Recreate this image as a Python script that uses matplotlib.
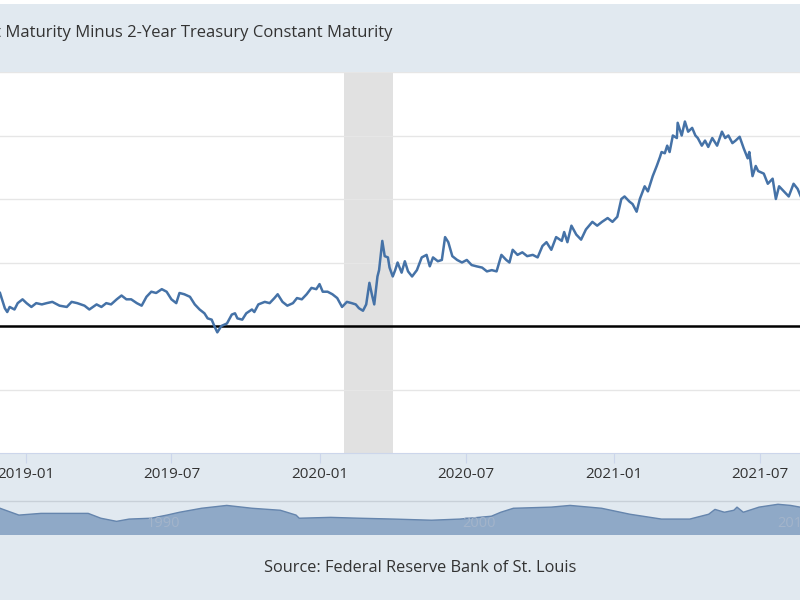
import pandas as pd
import matplotlib
matplotlib.use('Agg')
import matplotlib.pyplot as plt
import matplotlib.dates as mdates

plt.rcParams['font.family'] = ['Open Sans', 'DejaVu Sans']

title = '10-Year Treasury Constant Maturity Minus 2-Year Treasury Constant Maturity'
source = 'Source: Federal Reserve Bank of St. Louis'

# spread (percent)
dates = ['2018-11-30', '2018-12-06', '2018-12-09', '2018-12-12', '2018-12-18', '2018-12-22', '2018-12-28',
         '2019-01-02', '2019-01-08', '2019-01-14', '2019-01-21', '2019-01-27', '2019-02-03', '2019-02-12',
         '2019-02-21', '2019-02-27', '2019-03-06', '2019-03-15', '2019-03-21', '2019-03-30', '2019-04-05',
         '2019-04-11', '2019-04-17', '2019-04-24', '2019-04-30', '2019-05-06', '2019-05-12', '2019-05-19',
         '2019-05-25', '2019-05-31', '2019-06-06', '2019-06-12', '2019-06-19', '2019-06-25', '2019-07-01',
         '2019-07-07', '2019-07-11', '2019-07-17', '2019-07-24', '2019-07-30', '2019-08-05', '2019-08-11',
         '2019-08-15', '2019-08-20', '2019-08-24', '2019-08-27', '2019-09-01', '2019-09-08', '2019-09-14',
         '2019-09-18', '2019-09-21', '2019-09-27', '2019-10-02', '2019-10-09', '2019-10-12', '2019-10-17',
         '2019-10-25', '2019-10-31', '2019-11-06', '2019-11-10', '2019-11-16', '2019-11-22', '2019-11-29',
         '2019-12-04', '2019-12-10', '2019-12-16', '2019-12-22', '2019-12-28', '2020-01-01', '2020-01-05',
         '2020-01-11', '2020-01-17', '2020-01-23', '2020-01-29', '2020-02-04', '2020-02-10', '2020-02-15',
         '2020-02-19', '2020-02-24', '2020-02-28', '2020-03-03', '2020-03-06', '2020-03-09', '2020-03-13',
         '2020-03-15', '2020-03-19', '2020-03-22', '2020-03-26', '2020-03-28', '2020-04-01', '2020-04-04',
         '2020-04-07', '2020-04-12', '2020-04-16', '2020-04-20', '2020-04-25', '2020-05-01', '2020-05-07',
         '2020-05-13', '2020-05-17', '2020-05-21', '2020-05-27', '2020-06-01', '2020-06-05', '2020-06-09',
         '2020-06-14', '2020-06-20', '2020-06-26', '2020-07-02', '2020-07-08', '2020-07-14', '2020-07-21',
         '2020-07-27', '2020-08-02', '2020-08-08', '2020-08-14', '2020-08-20', '2020-08-24', '2020-08-28',
         '2020-09-03', '2020-09-09', '2020-09-15', '2020-09-22', '2020-09-28', '2020-10-04', '2020-10-09',
         '2020-10-15', '2020-10-21', '2020-10-28', '2020-10-31', '2020-11-04', '2020-11-09', '2020-11-15',
         '2020-11-21', '2020-11-27', '2020-12-05', '2020-12-11', '2020-12-17', '2020-12-24', '2020-12-30',
         '2021-01-05', '2021-01-10', '2021-01-14', '2021-01-20', '2021-01-24', '2021-01-29', '2021-02-02',
         '2021-02-08', '2021-02-12', '2021-02-18', '2021-02-23', '2021-02-27', '2021-03-01', '2021-03-05',
         '2021-03-08', '2021-03-11', '2021-03-15', '2021-03-20', '2021-03-21', '2021-03-26', '2021-03-30',
         '2021-04-03', '2021-04-08', '2021-04-12', '2021-04-15', '2021-04-20', '2021-04-24', '2021-04-28',
         '2021-05-03', '2021-05-09', '2021-05-15', '2021-05-19', '2021-05-23', '2021-05-28', '2021-06-01',
         '2021-06-06', '2021-06-11', '2021-06-16', '2021-06-18', '2021-06-22', '2021-06-26', '2021-06-29',
         '2021-07-06', '2021-07-11', '2021-07-17', '2021-07-21', '2021-07-25', '2021-07-31', '2021-08-06',
         '2021-08-12', '2021-08-17', '2021-08-21']
spread = [0.26, 0.14, 0.11, 0.15, 0.13, 0.18, 0.21,
          0.18, 0.15, 0.18, 0.17, 0.18, 0.19, 0.16,
          0.15, 0.19, 0.18, 0.16, 0.13, 0.17, 0.15,
          0.18, 0.17, 0.21, 0.24, 0.21, 0.21, 0.18,
          0.16, 0.23, 0.27, 0.26, 0.29, 0.27, 0.21,
          0.18, 0.26, 0.25, 0.23, 0.17, 0.13, 0.10,
          0.06, 0.05, -0.01, -0.05, 0.00, 0.02, 0.09,
          0.10, 0.06, 0.05, 0.10, 0.13, 0.11, 0.17,
          0.19, 0.18, 0.22, 0.25, 0.19, 0.16, 0.18,
          0.22, 0.21, 0.25, 0.30, 0.29, 0.33, 0.27,
          0.27, 0.25, 0.22, 0.15, 0.19, 0.18, 0.17,
          0.14, 0.12, 0.17, 0.34, 0.25, 0.17, 0.39,
          0.44, 0.67, 0.55, 0.54, 0.46, 0.39, 0.44,
          0.50, 0.42, 0.51, 0.43, 0.39, 0.44, 0.54,
          0.56, 0.47, 0.54, 0.51, 0.52, 0.70, 0.66,
          0.55, 0.52, 0.50, 0.52, 0.48, 0.47, 0.46,
          0.43, 0.44, 0.43, 0.56, 0.52, 0.50, 0.60,
          0.56, 0.58, 0.55, 0.56, 0.54, 0.63, 0.66,
          0.60, 0.70, 0.67, 0.74, 0.66, 0.79, 0.72,
          0.68, 0.76, 0.82, 0.79, 0.82, 0.85, 0.82,
          0.86, 1.00, 1.02, 0.98, 0.96, 0.90, 1.00,
          1.10, 1.06, 1.18, 1.26, 1.33, 1.37, 1.36,
          1.42, 1.37, 1.50, 1.48, 1.60, 1.50, 1.61,
          1.53, 1.56, 1.50, 1.48, 1.42, 1.46, 1.41,
          1.48, 1.42, 1.53, 1.48, 1.50, 1.44, 1.46,
          1.49, 1.40, 1.32, 1.37, 1.18, 1.26, 1.22,
          1.20, 1.12, 1.16, 1.00, 1.10, 1.06, 1.02,
          1.12, 1.08, 1.02]

recession = ('2020-02-01', '2020-04-01')
grid_levels = [-0.5, 0.5, 1.0, 1.5, 2.0]

# navigator strip (long history, compressed)
nav_years = [1984.8, 1985.4, 1986.1, 1987.6, 1988.0, 1988.5, 1988.9, 1989.6, 1990.1, 1990.5,
             1991.2, 1992.0, 1992.8, 1993.7, 1994.2, 1994.3, 1995.3, 1996.2, 1997.3, 1998.5,
             1999.4, 2000.4, 2000.7, 2001.1, 2002.3, 2002.9, 2003.9, 2004.8, 2005.8, 2006.7,
             2007.3, 2007.5, 2007.8, 2008.1, 2008.2, 2008.4, 2008.9, 2009.5, 2009.9, 2010.2]
nav_spread = [2.1, 0.9, 1.2, 1.2, 0.35, -0.2, 0.2, 0.35, 0.9, 1.4,
              2.1, 2.6, 2.1, 1.75, 0.9, 0.35, 0.5, 0.35, 0.2, 0.0,
              0.2, 0.7, 1.4, 2.1, 2.3, 2.6, 2.1, 1.05, 0.2, 0.2,
              1.05, 1.9, 1.4, 1.75, 2.3, 1.4, 2.3, 2.8, 2.6, 2.3]
nav_labels = [1990, 2000, 2010]

bg = '#e1e9f0'
line_color = '#4572a7'

fig = plt.figure(figsize=(8, 6), dpi=100, facecolor=bg)
fig.patches.append(plt.Rectangle((0, 1 - 4 / 600), 1, 4 / 600, transform=fig.transFigure,
                                 facecolor='white', edgecolor='none', zorder=0))

ax = fig.add_axes([0, 1 - 453 / 600, 1, 381 / 600])
ax.plot(pd.to_datetime(dates), spread, color=line_color, lw=1.8, zorder=3)
ax.axvspan(pd.Timestamp(recession[0]), pd.Timestamp(recession[1]), color='#e1e1e1', lw=0, zorder=0)
for g in grid_levels:
    ax.axhline(g, color='#e6e6e6', lw=1, zorder=1)
ax.axhline(0, color='black', lw=1.8, zorder=2)
ax.set_ylim(-1, 2)
ax.set_xlim(pd.Timestamp('2018-11-30'), pd.Timestamp('2021-08-20'))
ax.xaxis.set_major_locator(mdates.MonthLocator(bymonth=[1, 7]))
ax.xaxis.set_major_formatter(mdates.DateFormatter('%Y-%m'))
ax.tick_params(axis='x', length=7.5, color='#ccd6eb', labelsize=11, labelcolor='#333333', pad=2.5)
ax.set_yticks([])
for name, s in ax.spines.items():
    s.set_visible(name == 'bottom')
ax.spines['bottom'].set_color('#ccd6eb')

fig.text(393 / 800, 1 - 33 / 600, title, ha='right', va='center', fontsize=12.0, color='#333333')

nav = fig.add_axes([0, 1 - 535 / 600, 1, 33 / 600])
nav.set_facecolor(bg)
nav.fill_between(nav_years, nav_spread, -2.6, color='#8fa9c7', lw=0)
nav.plot(nav_years, nav_spread, color='#6585ad', lw=1)
nav.set_xlim(1984.8, 2010.2)
nav.set_ylim(-2.6, 3.2)
for yr in nav_labels:
    nav.text(yr, 0.36, str(yr), transform=nav.get_xaxis_transform(), ha='center', va='center',
             fontsize=10.5, color='#a3b4ca')
nav.set_xticks([])
nav.set_yticks([])
for s in nav.spines.values():
    s.set_visible(False)
fig.add_artist(plt.Line2D([0, 1], [1 - 501 / 600] * 2, color='#c8d0d8', lw=1))

fig.text(420 / 800, 1 - 568 / 600, source, ha='center', va='center', fontsize=11.8, color='#333333')

fig.savefig('out.png', dpi=100, facecolor=bg)
